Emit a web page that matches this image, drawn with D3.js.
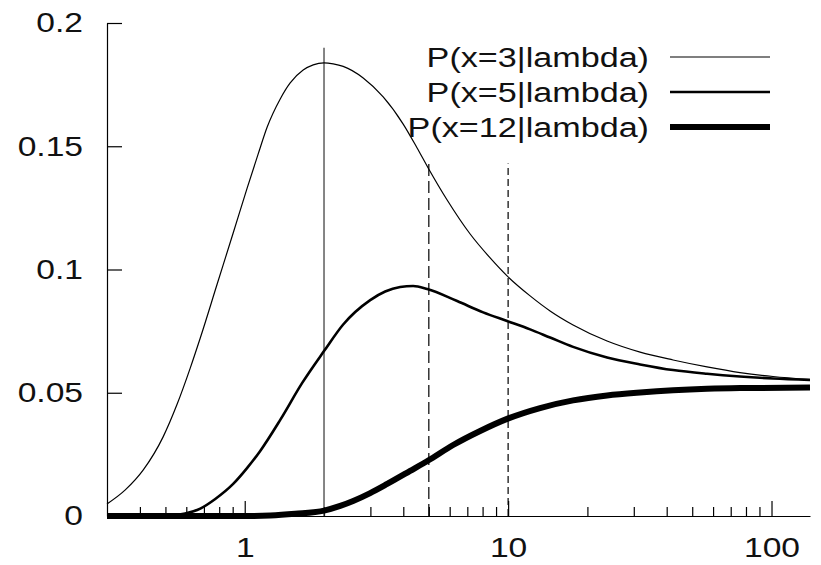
<!DOCTYPE html>
<html>
<head>
<meta charset="utf-8">
<script src="https://cdn.jsdelivr.net/npm/d3@7"></script>
<style>
  body { margin: 0; background: #fff; }
  text { font-family: "Liberation Sans", Arial, sans-serif; }
</style>
</head>
<body>
<script>
// values
var lambda3 = [0.3, 0.352, 0.412, 0.49, 0.554, 0.621, 0.678, 0.786, 0.904, 1.022, 1.125, 1.217, 1.364, 1.488, 1.667, 1.82, 2.0, 2.167, 2.365, 2.817, 3.355, 3.996, 4.513, 4.971, 5.868, 7.175, 8.546, 9.91, 12.12, 14.43, 17.65, 23.75, 31.7, 42.3, 56.9, 75.9, 101.3, 140];
var prob3 = [0.0049, 0.0106, 0.0187, 0.0321, 0.0454, 0.0600, 0.0722, 0.0941, 0.1148, 0.1331, 0.1469, 0.1578, 0.1692, 0.1757, 0.1809, 0.1830, 0.1838, 0.1834, 0.1824, 0.1777, 0.1700, 0.1590, 0.1493, 0.1412, 0.1282, 0.1144, 0.1047, 0.0974, 0.0893, 0.0832, 0.0775, 0.0710, 0.0665, 0.0633, 0.0605, 0.0582, 0.0566, 0.0554];

var lambda5 = [0.3, 0.438, 0.522, 0.594, 0.678, 0.773, 0.904, 1.022, 1.145, 1.364, 1.653, 2.0, 2.365, 2.995, 3.414, 3.892, 4.36, 4.928, 6.405, 8.04, 9.91, 12.12, 14.43, 17.65, 23.75, 31.7, 42.3, 56.9, 75.9, 101.3, 140];
var prob5 = [0, 0, 0.0002, 0.0010, 0.0030, 0.0069, 0.0130, 0.0195, 0.0264, 0.0390, 0.0540, 0.0669, 0.0777, 0.0876, 0.0911, 0.0929, 0.0933, 0.0921, 0.0872, 0.0826, 0.0791, 0.0757, 0.0724, 0.0686, 0.0643, 0.0615, 0.0592, 0.0577, 0.0566, 0.0558, 0.0552];

var lambda12 = [0.3, 1.0, 1.25, 1.555, 2.0, 2.304, 2.58, 2.995, 3.474, 4.247, 4.971, 6.184, 7.83, 9.91, 13.22, 17.65, 23.75, 31.7, 42.3, 56.9, 75.9, 140];
var prob12 = [0, 0, 0.0002, 0.0009, 0.0022, 0.0041, 0.0061, 0.0093, 0.0130, 0.0183, 0.0225, 0.0288, 0.0345, 0.0394, 0.0438, 0.0469, 0.0489, 0.0501, 0.0510, 0.0516, 0.0519, 0.0521];

var seriesNames = ["P(x=3|lambda)", "P(x=5|lambda)", "P(x=12|lambda)"];

var markLambda = [2, 5, 10];
var markTop = [0.19, 0.143, 0.143];

var xMajor = [1, 10, 100];
var xMajorLabels = ["1", "10", "100"];
var xMinor = [0.4, 0.5, 0.6, 0.7, 0.8, 0.9, 2, 3, 4, 5, 6, 7, 8, 9, 20, 30, 40, 50, 60, 70, 80, 90];
var yTicks = [0, 0.05, 0.1, 0.15, 0.2];
var yTickLabels = ["0", "0.05", "0.1", "0.15", "0.2"];

var width = 821;
var height = 565;
var fontSize = 28;

var svg = d3.select("body").append("svg")
	.attr("width", width)
	.attr("height", height);

var x = d3.scaleLog().domain([0.3, 140]).range([107, 810]);
var y = d3.scaleLinear().domain([0, 0.2]).range([516, 23]);

// axes: ticks point inward, like gnuplot
var xAxis = d3.axisBottom(x)
	.tickValues(xMajor)
	.tickFormat(function(d, i){ return xMajorLabels[i]; })
	.tickSizeInner(-15)
	.tickSizeOuter(0)
	.tickPadding(21);

var xMinorAxis = d3.axisBottom(x)
	.tickValues(xMinor)
	.tickFormat("")
	.tickSizeInner(-9)
	.tickSizeOuter(0);

var yAxis = d3.axisLeft(y)
	.tickValues(yTicks)
	.tickFormat(function(d, i){ return yTickLabels[i]; })
	.tickSizeInner(-15)
	.tickSizeOuter(0)
	.tickPadding(20);

svg.append("g").attr("transform", "translate(0," + y(0) + ")").call(xAxis);
var gxm = svg.append("g").attr("transform", "translate(0," + y(0) + ")").call(xMinorAxis);
gxm.select(".domain").remove();
svg.append("g").attr("transform", "translate(" + x(0.3) + ",0)").call(yAxis);

svg.selectAll(".tick text")
	.attr("font-size", fontSize)
	.attr("font-family", "Liberation Sans, Arial, sans-serif")
	.attr("fill", "#111")
	.attr("transform", "scale(1.2,1)");
svg.selectAll(".domain, .tick line").attr("stroke", "#000").attr("stroke-width", 1.2);

// vertical marker lines
var dashes = [null, "12,5", "7,4"];
svg.selectAll("line.mark")
	.data(markLambda)
	.enter()
		.append("line")
		.attr("class", "mark")
		.attr("x1", function(d){ return x(d); })
		.attr("x2", function(d){ return x(d); })
		.attr("y1", y(0))
		.attr("y2", function(d, i){ return y(markTop[i]); })
		.attr("stroke", function(d, i){ return i == 0 ? "#333" : "#000"; })
		.attr("stroke-width", 1.2)
		.attr("stroke-dasharray", function(d, i){ return dashes[i]; });

// curves
var series = [
	{name: seriesNames[0], xs: lambda3, ys: prob3, w: 1.2},
	{name: seriesNames[1], xs: lambda5, ys: prob5, w: 2.6},
	{name: seriesNames[2], xs: lambda12, ys: prob12, w: 6}
];

var line = d3.line()
	.x(function(d){ return x(d[0]); })
	.y(function(d){ return y(d[1]); })
	.curve(d3.curveMonotoneX);

svg.selectAll("path.curve")
	.data(series)
	.enter()
		.append("path")
		.attr("class", "curve")
		.attr("d", function(s){ return line(d3.zip(s.xs, s.ys)); })
		.attr("fill", "none")
		.attr("stroke", "#000")
		.attr("stroke-width", function(s){ return s.w; });

// legend
var legend = svg.selectAll("g.key")
	.data(series)
	.enter()
		.append("g")
		.attr("class", "key")
		.attr("transform", function(d, i){ return "translate(0," + (57 + i * 35) + ")"; });

legend.append("text")
	.attr("transform", "translate(649,0) scale(1.22,1)")
	.attr("text-anchor", "end")
	.attr("dy", "0.36em")
	.attr("font-size", fontSize)
	.attr("fill", "#111")
	.text(function(d){ return d.name; });

legend.append("line")
	.attr("x1", 670)
	.attr("x2", 770)
	.attr("stroke", "#000")
	.attr("stroke-width", function(d){ return d.w; });
</script>
</body>
</html>
